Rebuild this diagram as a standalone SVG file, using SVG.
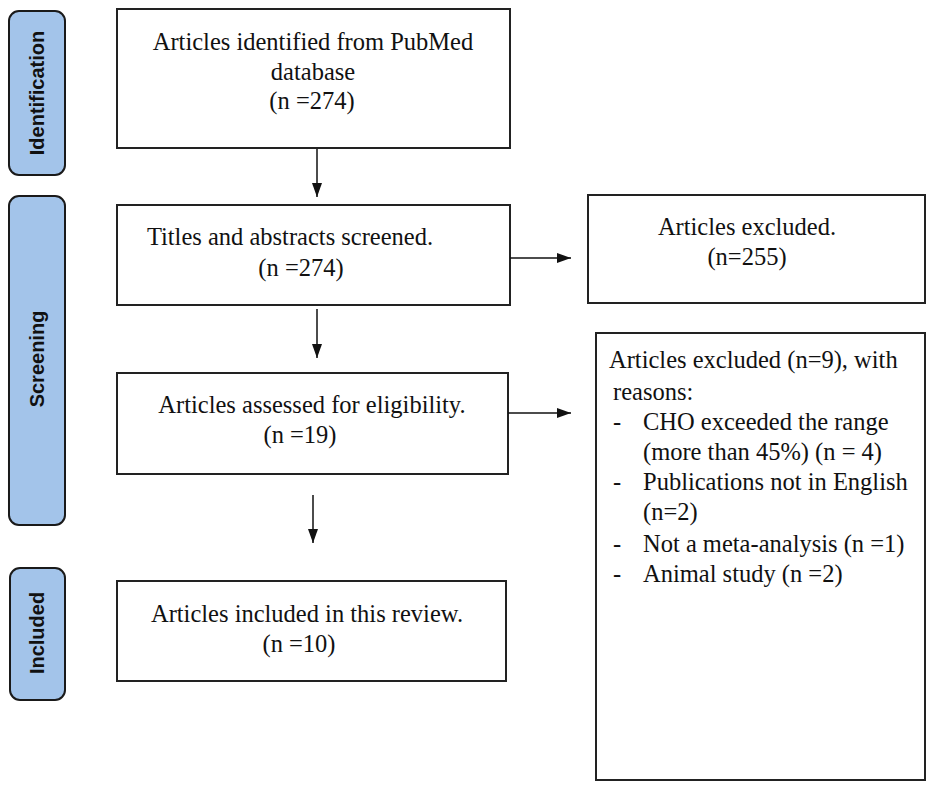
<svg xmlns="http://www.w3.org/2000/svg" width="935" height="787" viewBox="0 0 935 787">
<style>
.bg{fill:#ffffff}
.stage{fill:#a3c4ea;stroke:#1a1a1a;stroke-width:2}
.stxt{font-family:"Liberation Sans",Arial,sans-serif;font-weight:bold;font-size:20px;fill:#111;text-anchor:middle;dominant-baseline:central}
.box{fill:#ffffff;stroke:#222;stroke-width:2}
.t{font-family:"Liberation Serif","Times New Roman",serif;font-size:24.5px;fill:#111}
.c{text-anchor:middle}
.conn{stroke:#111;stroke-width:1.5;fill:none}
</style>
<defs>
<marker id="ahv" viewBox="0 0 14 10" refX="14" refY="5" markerWidth="14" markerHeight="11" markerUnits="userSpaceOnUse" orient="auto">
<path d="M0,0 L14,5 L0,10 Z" fill="#111"/>
</marker>
</defs>
<rect class="bg" x="0" y="0" width="935" height="787"/>

<g id="stage-identification">
<rect class="stage" x="9" y="11" width="56" height="164" rx="10"/>
<text class="stxt" transform="translate(37,93) rotate(-90)">Identification</text>
</g>
<g id="stage-screening">
<rect class="stage" x="9" y="196" width="56" height="329" rx="10"/>
<text class="stxt" transform="translate(37,359) rotate(-90)">Screening</text>
</g>
<g id="stage-included">
<rect class="stage" x="10" y="568" width="55" height="132" rx="10"/>
<text class="stxt" transform="translate(37,633) rotate(-90)">Included</text>
</g>

<g id="node-identified">
<rect class="box" x="117" y="9" width="393" height="139"/>
<text class="t c" x="313" y="50">Articles identified from PubMed</text>
<text class="t c" x="313" y="80">database</text>
<text class="t c" x="312" y="109">(n =274)</text>
</g>
<g id="node-screened">
<rect class="box" x="117" y="205" width="393" height="100"/>
<text class="t c" x="290" y="245">Titles and abstracts screened.</text>
<text class="t c" x="301" y="276">(n =274)</text>
</g>
<g id="node-excluded1">
<rect class="box" x="588" y="195" width="337" height="108"/>
<text class="t c" x="747" y="235">Articles excluded.</text>
<text class="t c" x="747" y="265">(n=255)</text>
</g>
<g id="node-eligibility">
<rect class="box" x="117" y="373" width="391" height="101"/>
<text class="t c" x="312" y="413">Articles assessed for eligibility.</text>
<text class="t c" x="300" y="443">(n =19)</text>
</g>
<g id="node-excluded2">
<rect class="box" x="596" y="333" width="329" height="447"/>
<text class="t" x="609" y="368">Articles excluded (n=9), with</text>
<text class="t" x="613" y="400">reasons:</text>
<text class="t" x="613" y="430">-</text>
<text class="t" x="643" y="430">CHO exceeded the range</text>
<text class="t" x="643" y="460">(more than 45%) (n = 4)</text>
<text class="t" x="613" y="490">-</text>
<text class="t" x="643" y="490">Publications not in English</text>
<text class="t" x="643" y="520">(n=2)</text>
<text class="t" x="613" y="552">-</text>
<text class="t" x="643" y="552">Not a meta-analysis (n =1)</text>
<text class="t" x="613" y="582">-</text>
<text class="t" x="643" y="582">Animal study (n =2)</text>
</g>
<g id="node-included">
<rect class="box" x="117" y="581" width="389" height="100"/>
<text class="t c" x="307" y="622">Articles included in this review.</text>
<text class="t c" x="299" y="652">(n =10)</text>
</g>

<g id="connectors">
<line class="conn" x1="317" y1="149" x2="317" y2="197" marker-end="url(#ahv)"/>
<line class="conn" x1="317" y1="309" x2="317" y2="358" marker-end="url(#ahv)"/>
<line class="conn" x1="313" y1="495" x2="313" y2="543" marker-end="url(#ahv)"/>
<line class="conn" x1="510" y1="258" x2="571" y2="258" marker-end="url(#ahv)"/>
<line class="conn" x1="508" y1="413" x2="571" y2="413" marker-end="url(#ahv)"/>
</g>
</svg>
